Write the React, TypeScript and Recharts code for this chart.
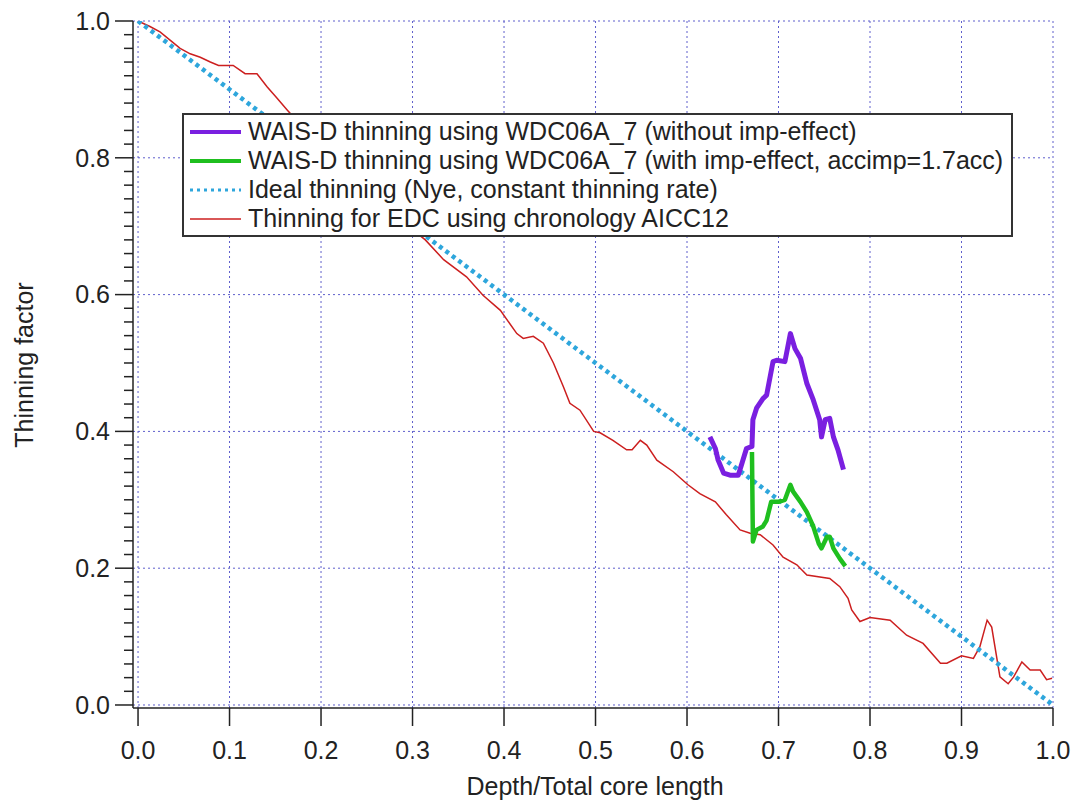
import { LineChart, Line, XAxis, YAxis, CartesianGrid, Legend } from 'recharts';

// EDC thinning, chronology AICC12 (thin red)
const EDC_DEPTH = [0, 0.013, 0.024, 0.035, 0.046, 0.057, 0.068, 0.079, 0.088, 0.104, 0.117, 0.13, 0.141, 0.152, 0.163, 0.19, 0.23, 0.27, 0.3, 0.314, 0.334, 0.359, 0.377, 0.396, 0.414, 0.421, 0.432, 0.443, 0.454, 0.465, 0.472, 0.483, 0.498, 0.505, 0.519, 0.534, 0.54, 0.549, 0.556, 0.567, 0.585, 0.601, 0.614, 0.631, 0.643, 0.658, 0.669, 0.68, 0.694, 0.705, 0.72, 0.731, 0.756, 0.767, 0.776, 0.78, 0.789, 0.8, 0.822, 0.84, 0.858, 0.877, 0.884, 0.9, 0.913, 0.92, 0.928, 0.933, 0.942, 0.951, 0.957, 0.966, 0.975, 0.986, 0.993, 0.999];
const EDC_THIN = [1.0, 0.992, 0.984, 0.972, 0.96, 0.952, 0.947, 0.94, 0.935, 0.935, 0.923, 0.923, 0.904, 0.887, 0.87, 0.83, 0.78, 0.73, 0.695, 0.68, 0.651, 0.626, 0.599, 0.577, 0.543, 0.536, 0.539, 0.529, 0.5, 0.465, 0.441, 0.431, 0.4, 0.398, 0.387, 0.373, 0.373, 0.387, 0.38, 0.358, 0.341, 0.322, 0.309, 0.297, 0.278, 0.256, 0.251, 0.249, 0.234, 0.216, 0.205, 0.19, 0.185, 0.173, 0.156, 0.139, 0.122, 0.128, 0.124, 0.102, 0.09, 0.061, 0.061, 0.072, 0.068, 0.085, 0.124, 0.114, 0.041, 0.031, 0.041, 0.063, 0.051, 0.051, 0.037, 0.039];

// WAIS-D, without imp-effect (purple)
const WAIS_DEPTH = [0.625, 0.631, 0.634, 0.64, 0.647, 0.656, 0.66, 0.665, 0.671, 0.672, 0.676, 0.683, 0.687, 0.694, 0.698, 0.707, 0.713, 0.718, 0.724, 0.731, 0.738, 0.745, 0.747, 0.751, 0.756, 0.76, 0.765, 0.771];
const WAIS_NOIMP = [0.392, 0.375, 0.358, 0.339, 0.336, 0.336, 0.353, 0.375, 0.378, 0.417, 0.434, 0.448, 0.453, 0.502, 0.504, 0.502, 0.543, 0.521, 0.507, 0.47, 0.446, 0.417, 0.392, 0.417, 0.419, 0.392, 0.373, 0.344];

// WAIS-D, with imp-effect accimp=1.7acc (green)
const WAIS_IMP_DEPTH = [0.671, 0.672, 0.676, 0.683, 0.687, 0.692, 0.7, 0.707, 0.713, 0.716, 0.724, 0.731, 0.738, 0.744, 0.747, 0.753, 0.756, 0.76, 0.767, 0.773];
const WAIS_IMP = [0.37, 0.239, 0.256, 0.261, 0.27, 0.297, 0.297, 0.3, 0.322, 0.312, 0.297, 0.282, 0.261, 0.236, 0.229, 0.246, 0.246, 0.229, 0.214, 0.203];

// Nye ideal thinning
const IDEAL_DEPTH = [0, 1];
const IDEAL_THIN = [1, 0];

const X_TICKS = [0, 0.1, 0.2, 0.3, 0.4, 0.5, 0.6, 0.7, 0.8, 0.9, 1.0];
const Y_GRID = [0, 0.2, 0.4, 0.6, 0.8, 1.0];
const Y_TICKS = Array.from({ length: 51 }, (_, i) => i / 50);

const SERIES = [
  { key: 'noimp', name: 'WAIS-D thinning using WDC06A_7 (without imp-effect)', color: '#7a1fe0', legendWidth: 4, dash: undefined },
  { key: 'imp', name: 'WAIS-D thinning using WDC06A_7 (with imp-effect, accimp=1.7acc)', color: '#1fbf1f', legendWidth: 4, dash: undefined },
  { key: 'ideal', name: 'Ideal thinning (Nye, constant thinning rate)', color: '#2ea6dc', legendWidth: 3, dash: '3 4' },
  { key: 'edc', name: 'Thinning for EDC using chronology AICC12', color: '#cc1f1f', legendWidth: 1.5, dash: undefined },
];

const zip = (xs: number[], ys: number[]) => xs.map((x, i) => ({ x, y: ys[i] }));
const edcData = zip(EDC_DEPTH, EDC_THIN);
const noimpData = zip(WAIS_DEPTH, WAIS_NOIMP);
const impData = zip(WAIS_IMP_DEPTH, WAIS_IMP);
const idealData = zip(IDEAL_DEPTH, IDEAL_THIN);

const INK = '#222';
const FONT = 25;

function YTick({ x, y, payload }: any) {
  const v = payload.value;
  const major = Math.round(v * 100) % 20 === 0;
  return (
    <g>
      <line x1={x - (major ? 18 : 9)} x2={x} y1={y} y2={y} stroke={INK} strokeWidth={1.5} />
      {major && (
        <text x={x - 23} y={y} dy="0.35em" textAnchor="end" fontSize={FONT} fill={INK}>
          {v.toFixed(1)}
        </text>
      )}
    </g>
  );
}

function XTick({ x, y, payload }: any) {
  return (
    <g>
      <line x1={x} x2={x} y1={y} y2={y + 18} stroke={INK} strokeWidth={1.5} />
      <text x={x} y={y + 42} dy="0.35em" textAnchor="middle" fontSize={FONT} fill={INK}>
        {payload.value.toFixed(1)}
      </text>
    </g>
  );
}

const renderLegend = () => (
  <div style={{ border: '2px solid #333', background: '#fff', padding: '2px 0', width: 831, height: 124, boxSizing: 'border-box' }}>
    {SERIES.map((s) => (
      <div key={s.key} style={{ display: 'flex', alignItems: 'center', height: 29, fontSize: FONT, color: INK, whiteSpace: 'nowrap' }}>
        <svg width={51} height={10} style={{ marginLeft: 6, marginRight: 7 }}>
          <line x1={0} x2={51} y1={5} y2={5} stroke={s.color} strokeWidth={s.legendWidth} strokeDasharray={s.dash} />
        </svg>
        <span>{s.name}</span>
      </div>
    ))}
  </div>
);

export default function App() {
  return (
    <div style={{ position: 'absolute', left: 0, top: 0, width: 1072, height: 802, background: '#fff', fontFamily: '"Liberation Sans", Arial, sans-serif' }}>
      <LineChart width={1072} height={802} margin={{ top: 21, right: 19, bottom: 0, left: 0 }}>
        <CartesianGrid horizontalValues={Y_GRID} verticalValues={X_TICKS} stroke="#5f5fcc" strokeDasharray="2 3" />
        <XAxis
          type="number"
          dataKey="x"
          domain={[-0.0055, 1]}
          allowDataOverflow
          ticks={X_TICKS}
          interval={0}
          tick={<XTick />}
          tickLine={false}
          tickSize={0}
          tickMargin={0}
          height={94}
          axisLine={{ stroke: INK, strokeWidth: 1.5 }}
          label={{ content: () => <text x={595} y={786} dy="0.35em" textAnchor="middle" fontSize={FONT} fill={INK}>Depth/Total core length</text> }}
        />
        <YAxis
          type="number"
          domain={[-0.0044, 1]}
          allowDataOverflow
          ticks={Y_TICKS}
          interval={0}
          tick={<YTick />}
          tickLine={false}
          tickSize={0}
          tickMargin={0}
          width={133}
          axisLine={{ stroke: INK, strokeWidth: 1.5 }}
          label={{ content: () => <text x={24} y={365} dy="0.35em" textAnchor="middle" fontSize={FONT} fill={INK} transform="rotate(-90 24 365)">Thinning factor</text> }}
        />
        <Legend
          layout="horizontal"
          verticalAlign="middle"
          align="center"
          content={renderLegend}
          wrapperStyle={{ left: 182, top: 113, width: 831 }}
        />
        <Line data={edcData} dataKey="y" stroke="#cc1f1f" strokeWidth={1.5} dot={false} activeDot={false} isAnimationActive={false} />
        <Line data={idealData} dataKey="y" stroke="#2ea6dc" strokeWidth={4.5} strokeDasharray="4 4" dot={false} activeDot={false} isAnimationActive={false} />
        <Line data={noimpData} dataKey="y" stroke="#7a1fe0" strokeWidth={5} strokeLinejoin="round" dot={false} activeDot={false} isAnimationActive={false} />
        <Line data={impData} dataKey="y" stroke="#1fbf1f" strokeWidth={4.5} strokeLinejoin="round" dot={false} activeDot={false} isAnimationActive={false} />
      </LineChart>
    </div>
  );
}
